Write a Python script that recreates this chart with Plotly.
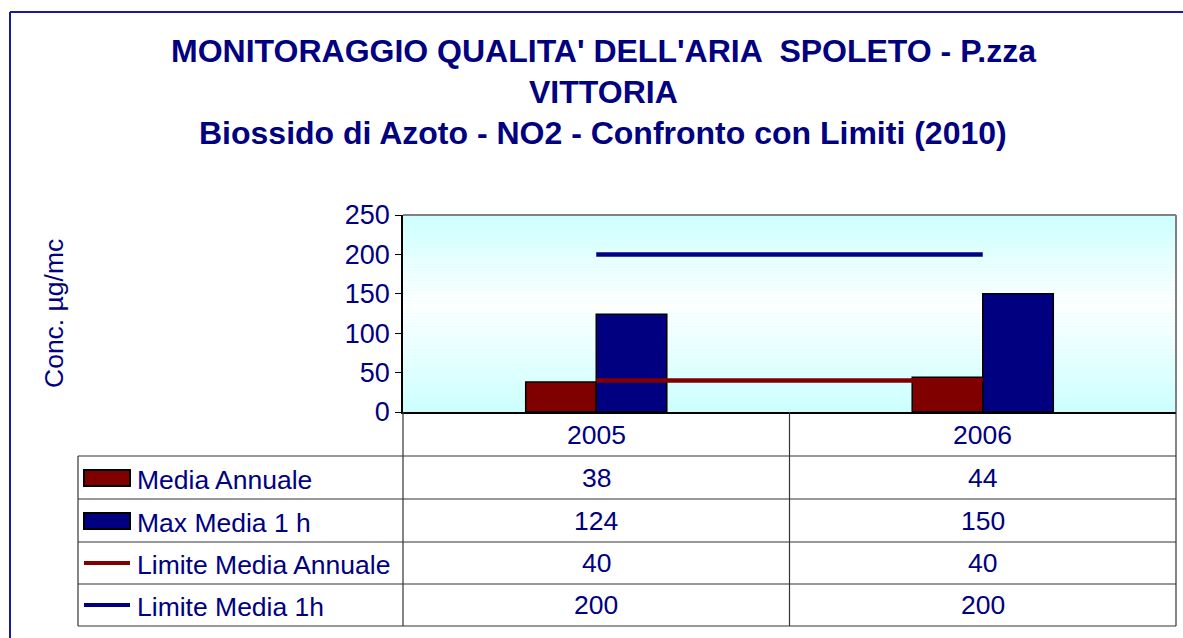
import plotly.graph_objects as go

# ---- data ----
years = ["2005", "2006"]
media_annuale = [38, 44]
max_media_1h = [124, 150]
limite_media_annuale = [40, 40]
limite_media_1h = [200, 200]
series_names = ["Media Annuale", "Max Media 1 h", "Limite Media Annuale", "Limite Media 1h"]
title_lines = ["MONITORAGGIO QUALITA' DELL'ARIA  SPOLETO - P.zza",
               "VITTORIA",
               "Biossido di Azoto - NO2 - Confronto con Limiti (2010)"]
y_title = "Conc. \u00b5g/mc"

# ---- style ----
W, H = 1183, 638
L, R, T, B = 403, 1176, 215, 412
MAROON = "#800000"
NAVY = "#000080"
FONT = "Liberation Sans, Arial, sans-serif"
TXT = 26.5


def px(x):
    return (x - L) / (R - L)


def py(y):
    return (B - y) / (B - T)


fig = go.Figure()
fig.add_trace(go.Bar(x=years, y=media_annuale, name=series_names[0],
                     marker=dict(color=MAROON, line=dict(color="black", width=1.5))))
fig.add_trace(go.Bar(x=years, y=max_media_1h, name=series_names[1],
                     marker=dict(color=NAVY, line=dict(color="black", width=1.5))))
fig.add_trace(go.Scatter(x=years, y=limite_media_annuale, name=series_names[2], mode="lines",
                         line=dict(color=MAROON, width=4.5)))
fig.add_trace(go.Scatter(x=years, y=limite_media_1h, name=series_names[3], mode="lines",
                         line=dict(color=NAVY, width=4.5)))

shapes = []
# gradient background of plot area
n = 60
center = 0.45


def lerp(c1, c2, t):
    return tuple(round(a + (b - a) * t) for a, b in zip(c1, c2))


cyan = (204, 255, 255)
white = (255, 255, 255)
for i in range(n):
    t0 = i / n
    t1 = (i + 1) / n
    tm = (t0 + t1) / 2  # from top
    if tm < center:
        f = tm / center
    else:
        f = (1 - tm) / (1 - center)
    c = lerp(cyan, white, f)
    shapes.append(dict(type="rect", xref="paper", yref="paper", x0=0, x1=1,
                       y0=1 - t1, y1=1 - t0, layer="below",
                       fillcolor="rgb(%d,%d,%d)" % c, line=dict(width=0)))

# plot area top/right border (gray)
shapes.append(dict(type="line", xref="paper", yref="paper", x0=0, x1=1, y0=1, y1=1,
                   line=dict(color="#808080", width=2)))
shapes.append(dict(type="line", xref="paper", yref="paper", x0=1, x1=1, y0=0, y1=1,
                   line=dict(color="#808080", width=2)))

# outer chart border
shapes.append(dict(type="line", xref="paper", yref="paper", x0=px(10), x1=px(1200),
                   y0=py(12), y1=py(12), line=dict(color="#1a1a9a", width=2)))
shapes.append(dict(type="line", xref="paper", yref="paper", x0=px(10), x1=px(10),
                   y0=py(12), y1=py(700), line=dict(color="#1a1a9a", width=2)))

# data table grid
TL = 78
row_lines = [456, 499, 542, 584, 626]
for yy in row_lines:
    shapes.append(dict(type="line", xref="paper", yref="paper", x0=px(TL), x1=px(R),
                       y0=py(yy), y1=py(yy), line=dict(color="#333333", width=1.2)))
for xx in [L, (L + R) / 2, R]:
    shapes.append(dict(type="line", xref="paper", yref="paper", x0=px(xx), x1=px(xx),
                       y0=py(B), y1=py(626), line=dict(color="#333333", width=1.2)))
shapes.append(dict(type="line", xref="paper", yref="paper", x0=px(TL), x1=px(TL),
                   y0=py(456), y1=py(626), line=dict(color="#333333", width=1.2)))

# legend keys
row_centers = [478, 521, 563, 605]
shapes.append(dict(type="rect", xref="paper", yref="paper", x0=px(84), x1=px(130),
                   y0=py(row_centers[0] - 8), y1=py(row_centers[0] + 8),
                   fillcolor=MAROON, line=dict(color="black", width=2)))
shapes.append(dict(type="rect", xref="paper", yref="paper", x0=px(84), x1=px(130),
                   y0=py(row_centers[1] - 8), y1=py(row_centers[1] + 8),
                   fillcolor=NAVY, line=dict(color="black", width=2)))
shapes.append(dict(type="line", xref="paper", yref="paper", x0=px(84), x1=px(130),
                   y0=py(row_centers[2]), y1=py(row_centers[2]),
                   line=dict(color=MAROON, width=4)))
shapes.append(dict(type="line", xref="paper", yref="paper", x0=px(84), x1=px(130),
                   y0=py(row_centers[3]), y1=py(row_centers[3]),
                   line=dict(color=NAVY, width=4)))

annotations = []
# title
for i, (line, yy) in enumerate(zip(title_lines, [51, 92, 133])):
    annotations.append(dict(text="<b>%s</b>" % line, xref="paper", yref="paper",
                            x=px(603), y=py(yy), xanchor="center", yanchor="middle",
                            showarrow=False, font=dict(family=FONT, size=32, color=NAVY)))
# y title
annotations.append(dict(text=y_title, xref="paper", yref="paper", x=px(54), y=py(314),
                        textangle=-90, xanchor="center", yanchor="middle", showarrow=False,
                        font=dict(family=FONT, size=TXT, color=NAVY)))
# header row: years (category index positions)
for i, yr in enumerate(years):
    annotations.append(dict(text=yr, xref="x", yref="paper", x=i, y=py(435),
                            xanchor="center", yanchor="middle", showarrow=False,
                            font=dict(family=FONT, size=TXT, color=NAVY)))
# table rows
values = [media_annuale, max_media_1h, limite_media_annuale, limite_media_1h]
for name, vals, yc in zip(series_names, values, row_centers):
    annotations.append(dict(text=name, xref="paper", yref="paper", x=px(135), y=py(yc + 2),
                            xanchor="left", yanchor="middle", showarrow=False,
                            font=dict(family=FONT, size=TXT, color=NAVY)))
    for i, v in enumerate(vals):
        annotations.append(dict(text=str(v), xref="x", yref="paper", x=i, y=py(yc),
                                xanchor="center", yanchor="middle", showarrow=False,
                                font=dict(family=FONT, size=TXT, color=NAVY)))

fig.update_layout(
    width=W, height=H, autosize=False,
    margin=dict(l=L, r=W - R, t=T, b=H - B, pad=0),
    paper_bgcolor="white", plot_bgcolor="#ccffff",
    barmode="group", bargap=0.635, bargroupgap=0,
    showlegend=False,
    shapes=shapes, annotations=annotations,
    font=dict(family=FONT, color=NAVY),
)
fig.update_xaxes(type="category", range=[-0.5, len(years) - 0.5], autorange=False,
                 showticklabels=False, ticks="", showgrid=False,
                 showline=True, linecolor="black", linewidth=1.5, zeroline=False)
fig.update_yaxes(range=[0, 250], dtick=50, ticks="outside", ticklen=6, tickcolor="black",
                 showline=True, linecolor="black", linewidth=1.5, showgrid=False,
                 zeroline=False, tickfont=dict(family=FONT, size=27, color=NAVY))

fig.write_html("out.html", config={"displayModeBar": False},
               post_script="document.body.style.margin='0';")
